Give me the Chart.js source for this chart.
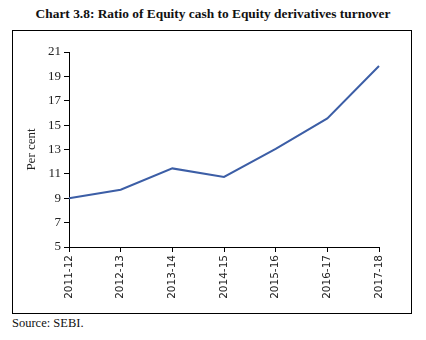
<!DOCTYPE html>
<html>
<head>
<meta charset="utf-8">
<script src="https://cdn.jsdelivr.net/npm/chart.js@4"></script>
<style>
  body { margin: 0; background: #fff; width: 426px; height: 340px; position: relative; font-family: "Liberation Serif", serif; }
  #title { position: absolute; left: 0; top: 6px; width: 426px; text-align: center; font-weight: bold; font-size: 13.4px; color: #111; }
  #box { position: absolute; left: 12px; top: 30px; width: 398px; height: 282px; border: 1px solid #000; }
  #source { position: absolute; left: 12px; top: 316px; font-size: 12.5px; color: #111; }
</style>
</head>
<body>
<div id="title">Chart 3.8: Ratio of Equity cash to Equity derivatives turnover</div>
<div id="box"><canvas id="ratioChart" width="398" height="282"></canvas></div>
<div id="source">Source: SEBI.</div>
<script>
// data
var years = ['2011-12', '2012-13', '2013-14', '2014-15', '2015-16', '2016-17', '2017-18'];
var ratio = [9.0, 9.7, 11.45, 10.75, 13.05, 15.55, 19.85];
var yTicks = [5, 7, 9, 11, 13, 15, 17, 19, 21];

window.onload = function() {
    var ctx = document.getElementById('ratioChart').getContext('2d');

    var config = {
        type: 'line',
        data: {
            labels: years,
            datasets: [{
                data: ratio,
                borderColor: '#3c5ea6',
                borderWidth: 2,
                pointRadius: 0,
                tension: 0,
                fill: false
            }]
        },
        options: {
            responsive: false,
            animation: false,
            layout: { padding: { top: 21, right: 32, left: 0, bottom: 0 } },
            plugins: {
                legend: { display: false },
                tooltip: { enabled: false }
            },
            scales: {
                x: {
                    offset: false,
                    afterFit: function(scale) { scale.height = 66; },
                    grid: { drawOnChartArea: false, tickLength: 5, color: '#000' },
                    border: { color: '#000', width: 1 },
                    ticks: {
                        color: '#222',
                        font: { family: 'DejaVu Sans', size: 10.5 },
                        minRotation: 90,
                        maxRotation: 90,
                        padding: 3,
                        autoSkip: false
                    }
                },
                y: {
                    min: 5,
                    max: 21,
                    afterFit: function(scale) { scale.width = 56; },
                    afterBuildTicks: function(scale) {
                        scale.ticks = yTicks.map(function(v) { return { value: v }; });
                    },
                    grid: { drawOnChartArea: false, tickLength: 5, color: '#000' },
                    border: { color: '#000', width: 1 },
                    ticks: {
                        color: '#222',
                        font: { family: 'Liberation Serif', size: 13 },
                        padding: 3
                    },
                    title: {
                        display: true,
                        text: 'Per cent',
                        color: '#222',
                        font: { family: 'Liberation Serif', size: 13 },
                        padding: { top: 11, bottom: 4 }
                    }
                }
            }
        }
    };

    var ratioChart = new Chart(ctx, config);
};
</script>
</body>
</html>
